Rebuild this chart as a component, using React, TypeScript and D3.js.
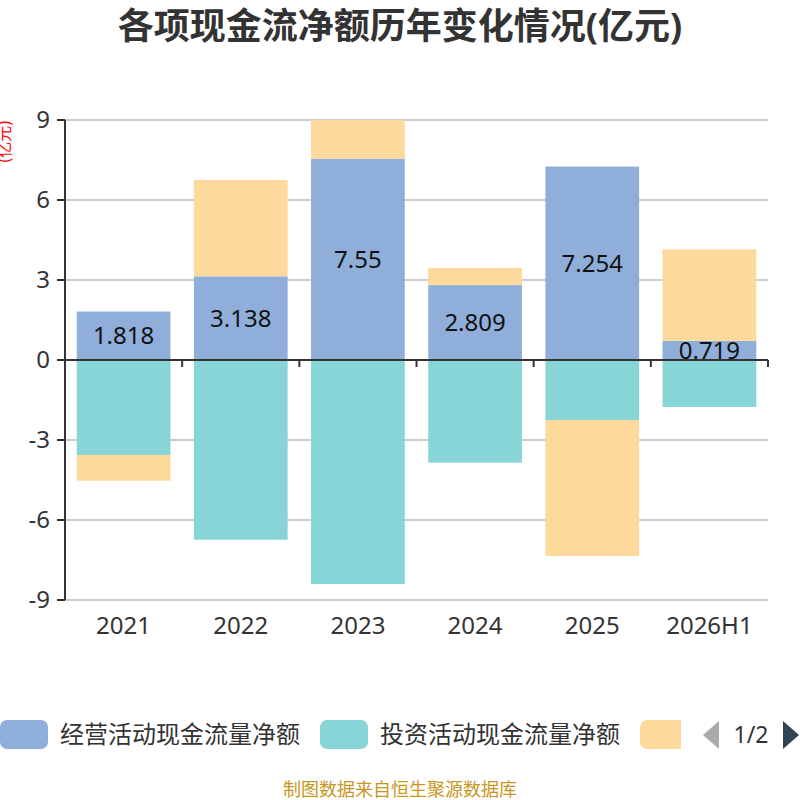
import React from "react";
import * as d3 from "d3";

// categories and series (亿元)
const years = ["2021", "2022", "2023", "2024", "2025", "2026H1"];
const operating = [1.818, 3.138, 7.55, 2.809, 7.254, 0.719];
const investing = [-3.56, -6.74, -8.4, -3.85, -2.25, -1.76];
const financing = [-0.965, 3.61, 1.45, 0.64, -5.1, 3.43];
const yTicks = [-9, -6, -3, 0, 3, 6, 9];

const seriesNames = ["经营活动现金流量净额", "投资活动现金流量净额", "筹资活动现金流量净额"];
const colors = ["#8FAEDA", "#88D5D8", "#FDD99B"];

const font = '"Noto Sans", "Noto Sans CJK SC", sans-serif';

const App: React.FC = () => {
  const width = 800;
  const height = 800;
  const margin = { top: 120, right: 32, bottom: 200, left: 65 };
  const innerW = width - margin.left - margin.right;
  const innerH = height - margin.top - margin.bottom;

  const x = d3.scaleBand<string>().domain(years).range([0, innerW]).paddingInner(0.2).paddingOuter(0.1);
  const xBand = d3.scaleBand<string>().domain(years).range([0, innerW]);
  const y = d3.scaleLinear().domain([-9, 9]).range([innerH, 0]);

  const rows = years.map((yr, i) => ({ year: yr, op: operating[i], inv: investing[i], fin: financing[i] }));
  const stack = d3
    .stack<any>()
    .keys(["op", "inv", "fin"])
    .offset(d3.stackOffsetDiverging);
  const stacked = stack(rows);

  return (
    <svg width={width} height={height} style={{ position: "absolute", left: 0, top: 0, fontFamily: font }}>
      <text x={400} y={39} textAnchor="middle" fontSize={36} fontWeight="bold" fill="#333">
        各项现金流净额历年变化情况(亿元)
      </text>
      <text
        transform="translate(10,121) rotate(-90)"
        textAnchor="end"
        fontSize={16}
        fill="#FF0000"
      >
        (亿元)
      </text>
      <g transform={`translate(${margin.left},${margin.top})`}>
        {yTicks
          .filter((t) => t !== 0)
          .map((t) => (
            <line key={"g" + t} x1={0} x2={innerW} y1={y(t)} y2={y(t)} stroke="#ccc" strokeWidth={2} />
          ))}
        {stacked.map((s, si) =>
          s.map((d, i) => (
            <rect
              key={si + "-" + i}
              x={x(years[i])}
              width={x.bandwidth()}
              y={y(Math.max(d[0], d[1]))}
              height={Math.abs(y(d[0]) - y(d[1]))}
              fill={colors[si]}
            />
          ))
        )}
        {/* y axis */}
        <line x1={0} x2={0} y1={0} y2={innerH} stroke="#333" strokeWidth={2} />
        {yTicks.map((t) => (
          <g key={"t" + t}>
            <line x1={-8} x2={0} y1={y(t)} y2={y(t)} stroke="#333" strokeWidth={2} />
            <text x={-15} y={y(t)} dy="0.35em" textAnchor="end" fontSize={24} fill="#333">
              {t}
            </text>
          </g>
        ))}
        {/* x axis at zero */}
        <line x1={0} x2={innerW} y1={y(0)} y2={y(0)} stroke="#333" strokeWidth={2} />
        {years.map((yr) => (
          <line
            key={"xt" + yr}
            x1={(xBand(yr) as number) + xBand.bandwidth()}
            x2={(xBand(yr) as number) + xBand.bandwidth()}
            y1={y(0)}
            y2={y(0) + 7}
            stroke="#333"
            strokeWidth={2}
          />
        ))}
        {years.map((yr) => (
          <text
            key={"xl" + yr}
            x={(xBand(yr) as number) + xBand.bandwidth() / 2}
            y={innerH + 34}
            textAnchor="middle"
            fontSize={24}
            fill="#333"
          >
            {yr}
          </text>
        ))}
        {stacked[0].map((d, i) => (
          <text
            key={"lb" + i}
            x={(x(years[i]) as number) + x.bandwidth() / 2}
            y={(y(d[0]) + y(d[1])) / 2}
            dy="0.35em"
            textAnchor="middle"
            fontSize={24}
            fill="#111"
          >
            {operating[i]}
          </text>
        ))}
      </g>
      {/* legend */}
      <defs>
        <clipPath id="legendClip">
          <rect x={0} y={700} width={681} height={80} />
        </clipPath>
      </defs>
      <g clipPath="url(#legendClip)">
        {seriesNames.map((n, i) => (
          <g key={n} transform={`translate(${i * 320},720)`}>
            <rect x={0} y={0} width={48} height={29} rx={7} fill={colors[i]} />
            <text x={60} y={15} dy="0.35em" fontSize={24} fill="#333">
              {n}
            </text>
          </g>
        ))}
      </g>
      <path d="M703,735 L719,721 L719,749 Z" fill="#aaa" />
      <text x={751} y={735} dy="0.35em" textAnchor="middle" fontSize={23} fill="#333">
        1/2
      </text>
      <path d="M783,721 L799,735 L783,749 Z" fill="#2F4554" />
      <text x={400} y={790} dy="0.35em" textAnchor="middle" fontSize={18} fill="#C8961E">
        制图数据来自恒生聚源数据库
      </text>
    </svg>
  );
};

export default App;
